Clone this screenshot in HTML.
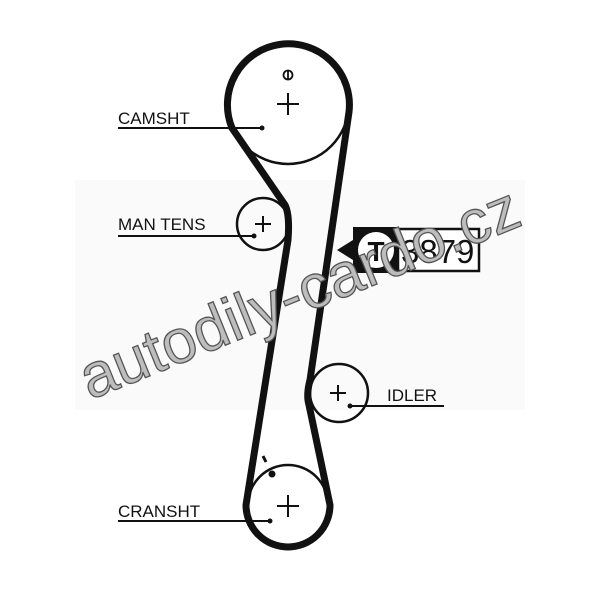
<!DOCTYPE html>
<html><head><style>
html,body{margin:0;padding:0;background:#fff;}
svg{display:block;}
</style></head><body>
<svg width="600" height="589" viewBox="0 0 600 589" xmlns="http://www.w3.org/2000/svg">
<rect width="600" height="589" fill="#fff"/>
<rect x="75" y="180" width="450" height="230" fill="#fafafa"/>
<!-- pulleys -->
<circle cx="288" cy="103" r="61" fill="none" stroke="#111" stroke-width="2.5"/>
<circle cx="263" cy="224" r="26" fill="none" stroke="#111" stroke-width="2.5"/>
<circle cx="339" cy="393" r="29" fill="none" stroke="#111" stroke-width="2.5"/>
<circle cx="288" cy="505" r="40" fill="none" stroke="#111" stroke-width="2.5"/>
<!-- belt -->
<path d="M349,112 A61,61 0 1 0 232,128 L285,205 Q290,215 288,240 L246,505 A42,42 0 1 0 330,505 L309,405 Q306,395 310,380 L349,112 Z" fill="none" stroke="#111" stroke-width="7" stroke-linejoin="round"/>
<!-- crosses -->
<g stroke="#111" stroke-width="2">
<path d="M277,104 H299 M288,93 V115"/>
<path d="M255,224 H271 M263,216 V232"/>
<path d="M330,393 H346 M338,385 V401"/>
<path d="M277,506 H299 M288,495 V517"/>
<path d="M263,456 L266,462" stroke-width="3"/>
</g>
<circle cx="288" cy="75" r="4.5" fill="none" stroke="#111" stroke-width="1.8"/>
<line x1="288" y1="70" x2="288" y2="80" stroke="#111" stroke-width="1.8"/>
<circle cx="272" cy="474" r="3.5" fill="#111"/>
<!-- leader lines -->
<g stroke="#111" stroke-width="2">
<line x1="118" y1="128" x2="262" y2="128"/>
<line x1="118" y1="236" x2="254" y2="236"/>
<line x1="350" y1="406" x2="444" y2="406"/>
<line x1="118" y1="521" x2="270" y2="521"/>
</g>
<g fill="#111">
<circle cx="262" cy="128" r="2.5"/><circle cx="254" cy="236" r="2.5"/>
<circle cx="350" cy="406" r="2.5"/><circle cx="270" cy="521" r="2.5"/>
</g>
<g font-family="Liberation Sans, sans-serif" font-size="17" fill="#111">
<text x="118" y="124">CAMSHT</text>
<text x="118" y="230">MAN TENS</text>
<text x="387" y="401">IDLER</text>
<text x="118" y="517">CRANSHT</text>
</g>
<!-- label -->
<rect x="398" y="229" width="81" height="42" fill="#fff" stroke="#111" stroke-width="2.5"/>
<path d="M353,227 H399 V273 H353 V260 L337,250 L353,240 Z" fill="#111"/>
<circle cx="376" cy="250" r="18" fill="#fff"/>
<text x="376" y="261" font-family="Liberation Sans, sans-serif" font-weight="bold" font-size="28" text-anchor="middle" fill="#111">T</text>
<text x="401" y="263" font-family="Liberation Sans, sans-serif" font-size="33" fill="#111">3879</text>
<!-- watermark -->
<text x="90" y="400" transform="rotate(-22 90 400)" font-family="Liberation Sans, sans-serif" font-size="62" fill="#bdbdbd" stroke="#555" stroke-width="1.3">autodily-cardo.cz</text>
</svg>
</body></html>
